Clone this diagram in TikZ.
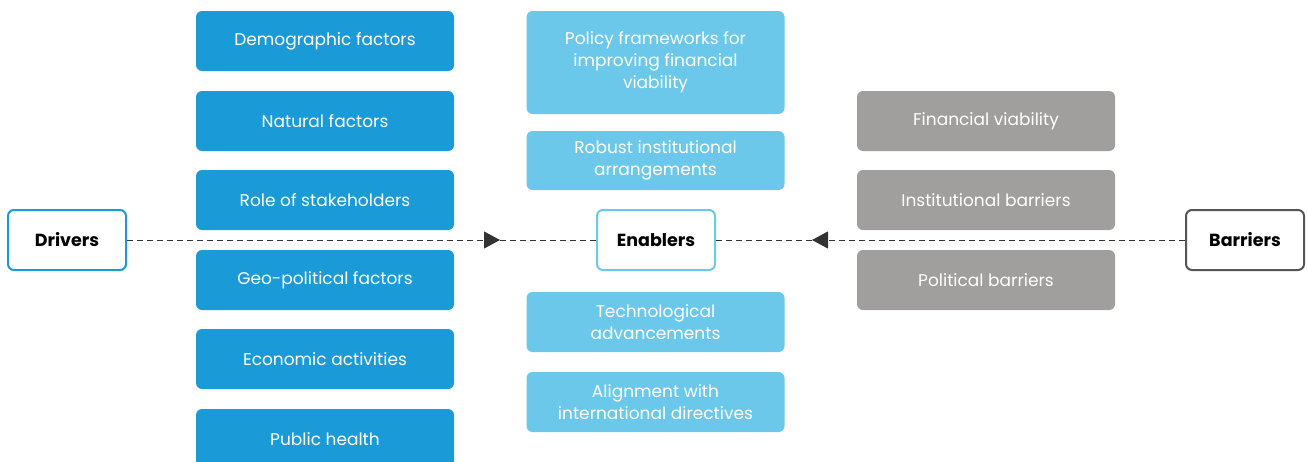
\documentclass[tikz,border=0pt]{standalone}
\usepackage{fontspec}
\setmainfont{Poppins}
\usetikzlibrary{arrows.meta}
\definecolor{driverblue}{HTML}{1A9BD7}
\definecolor{enablerblue}{HTML}{6CC8EA}
\definecolor{barriergray}{HTML}{A09F9E}
\definecolor{outlinegray}{HTML}{555555}
\definecolor{linegray}{HTML}{333333}
\begin{document}
\begin{tikzpicture}[x=1pt,y=-1pt,
  item/.style={rounded corners=6pt, minimum width=258pt, align=center,
    text=white, font=\fontsize{17}{22}\selectfont, inner sep=0pt},
  driver/.style={item, fill=driverblue, minimum height=60pt},
  enabler/.style={item, fill=enablerblue},
  barrier/.style={item, fill=barriergray, minimum height=60pt},
  hub/.style={rounded corners=6pt, line width=2pt, fill=white,
    minimum width=118pt, minimum height=60pt, inner sep=0pt,
    font=\fontsize{17.5}{22}\selectfont\bfseries, text=black},
  dashline/.style={linegray, line width=1pt, dash pattern=on 6pt off 4pt},
  tip/.style={-{Triangle[length=16pt,width=17pt]}}
]
\useasboundingbox (0,0) rectangle (1308,461);
\fill[white] (0,0) rectangle (1308,461);

% Drivers column
\node[driver] (d1) at (325,41) {Demographic factors};
\node[driver] (d2) at (325,121) {Natural factors};
\node[driver] (d3) at (325,200) {Role of stakeholders};
\node[driver] (d4) at (325,280) {Geo-political factors};
\node[driver] (d5) at (325,359) {Economic activities};
\node[driver] (d6) at (325,439) {Public health};

% Enablers column
\node[enabler, minimum height=103pt] (e1) at (655.5,62.5) {Policy frameworks for\\improving financial\\viability};
\node[enabler, minimum height=59pt] (e2) at (655.5,160.5) {Robust institutional\\arrangements};
\node[enabler, minimum height=60pt] (e3) at (655.5,322) {Technological\\advancements};
\node[enabler, minimum height=60pt] (e4) at (655.5,402) {Alignment with\\international directives};

% Barriers column
\node[barrier] (b1) at (986,121) {Financial viability};
\node[barrier] (b2) at (986,200) {Institutional barriers};
\node[barrier] (b3) at (986,280) {Political barriers};

% Hub nodes
\node[hub, draw=driverblue] (drivers) at (67,240) {Drivers};
\node[hub, draw=enablerblue] (enablers) at (656,240) {Enablers};
\node[hub, draw=outlinegray] (barriers) at (1245,240) {Barriers};

% Connectors
\coordinate (tipD) at (500,240);
\coordinate (tipB) at (812,240);
\draw[dashline, tip] (drivers.east) -- (tipD);
\draw[dashline] (tipD) -- (enablers.west);
\draw[dashline, tip] (barriers.west) -- (tipB);
\draw[dashline] (tipB) -- (enablers.east);
\end{tikzpicture}
\end{document}
